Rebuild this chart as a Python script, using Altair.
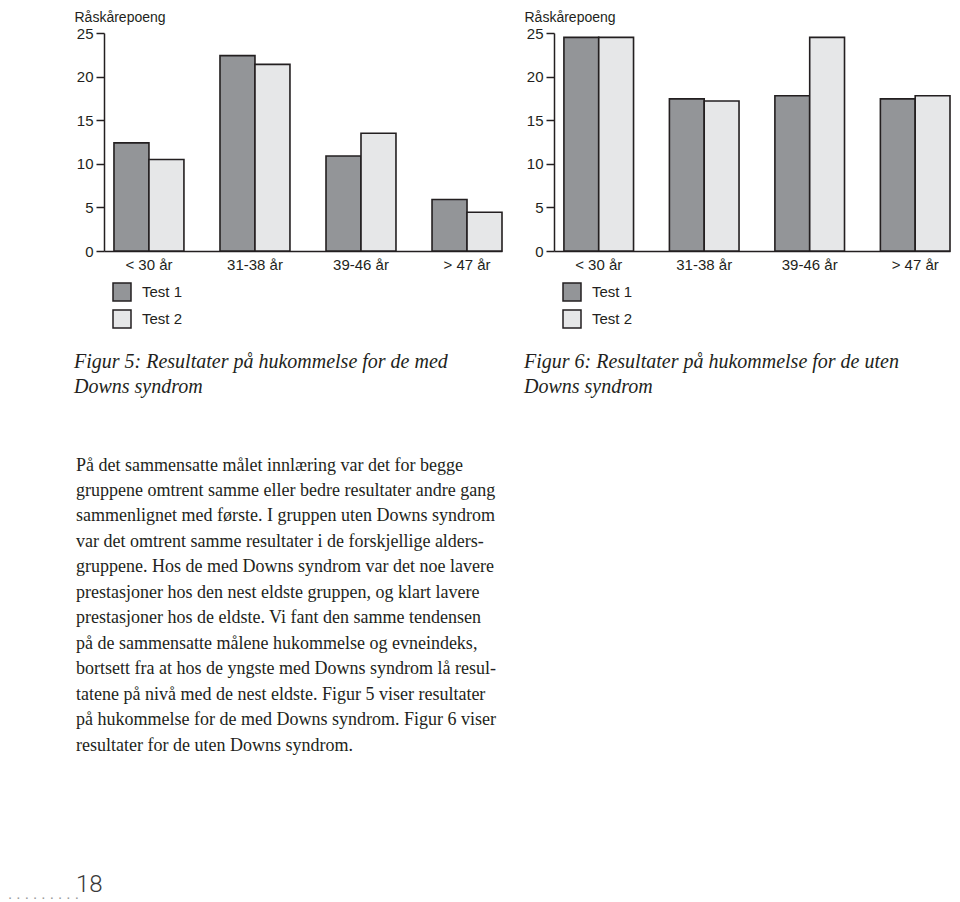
import altair as alt
import pandas as pd

# ---------------- data ----------------
groups = ["< 30 år", "31-38 år", "39-46 år", "> 47 år"]
tests = ["Test 1", "Test 2"]
fig5_test1 = [12.4, 22.4, 10.9, 5.9]
fig5_test2 = [10.5, 21.4, 13.5, 4.45]
fig6_test1 = [24.5, 17.45, 17.8, 17.45]
fig6_test2 = [24.5, 17.2, 24.5, 17.8]
y_ticks = [0, 5, 10, 15, 20, 25]
y_title = "Råskårepoeng"
caption5 = ["Figur 5: Resultater på hukommelse for de med", "Downs syndrom"]
caption6 = ["Figur 6: Resultater på hukommelse for de uten", "Downs syndrom"]
body_lines = [
    "På det sammensatte målet innlæring var det for begge",
    "gruppene omtrent samme eller bedre resultater andre gang",
    "sammenlignet med første. I gruppen uten Downs syndrom",
    "var det omtrent samme resultater i de forskjellige alders-",
    "gruppene. Hos de med Downs syndrom var det noe lavere",
    "prestasjoner hos den nest eldste gruppen, og klart lavere",
    "prestasjoner hos de eldste. Vi fant den samme tendensen",
    "på de sammensatte målene hukommelse og evneindeks,",
    "bortsett fra at hos de yngste med Downs syndrom lå resul-",
    "tatene på nivå med de nest eldste. Figur 5 viser resultater",
    "på hukommelse for de med Downs syndrom. Figur 6 viser",
    "resultater for de uten Downs syndrom.",
]
page_number = ["18"]
page_dots = [". . . . . . . . ."]

# ---------------- style ----------------
INK = "#231f20"
DARK = "#939598"
LIGHT = "#e6e7e8"
SANS = "Liberation Sans"
SERIF = "Liberation Serif"


def bar_chart(t1, t2, caption, width):
    df = pd.DataFrame({
        "group": groups * 2,
        "test": [tests[0]] * len(groups) + [tests[1]] * len(groups),
        "value": t1 + t2,
    })
    return alt.Chart(df).mark_bar(stroke=INK, strokeWidth=1.6).encode(
        x=alt.X(
            "group:N", sort=groups,
            scale=alt.Scale(paddingInner=0.34, paddingOuter=0.047, align=1),
            axis=alt.Axis(title=None, labelAngle=0, ticks=False, tickSize=0,
                          labelPadding=6, domainColor=INK, domainWidth=1.5,
                          labelFont=SANS, labelFontSize=15, labelColor=INK),
        ),
        xOffset=alt.XOffset("test:N", sort=tests,
                            scale=alt.Scale(paddingInner=0, paddingOuter=0)),
        y=alt.Y(
            "value:Q",
            scale=alt.Scale(domain=[0, 25], nice=False),
            axis=alt.Axis(values=y_ticks, title=y_title, titleAngle=0,
                          titleX=-30, titleY=-12, titleAlign="left",
                          titleBaseline="alphabetic", titleFont=SANS,
                          titleFontSize=14, titleFontWeight="normal",
                          titleColor=INK, grid=False, tickSize=8,
                          tickWidth=1.5, tickColor=INK, domainColor=INK,
                          domainWidth=1.5, labelPadding=3, labelFont=SANS,
                          labelFontSize=15, labelColor=INK),
        ),
        fill=alt.Fill(
            "test:N", sort=tests,
            scale=alt.Scale(domain=tests, range=[DARK, LIGHT]),
            legend=alt.Legend(orient="none", legendX=8, legendY=249,
                              direction="vertical", title=None,
                              symbolType="square", symbolSize=324,
                              symbolStrokeColor=INK, symbolStrokeWidth=1.5,
                              labelFont=SANS, labelFontSize=15,
                              labelColor=INK, labelOffset=10, rowPadding=3,
                              padding=0),
        ),
    ).properties(
        width=width, height=218,
        title=alt.TitleParams(text=caption, orient="bottom", anchor="start",
                              frame="group", dx=-30, offset=21,
                              baseline="top", font=SERIF, fontSize=20,
                              fontStyle="italic", fontWeight="normal",
                              lineHeight=25, color=INK),
    )


left = bar_chart(fig5_test1, fig5_test2, caption5, 398)
right = bar_chart(fig6_test1, fig6_test2, caption6, 396)

body_df = pd.DataFrame({"line": list(range(len(body_lines))), "text": body_lines})
body_text = alt.Chart(body_df).mark_text(
    align="left", baseline="alphabetic", font=SERIF, fontSize=18, color=INK
).encode(
    x=alt.value(-28),
    y=alt.Y("line:Q", scale=alt.Scale(domain=[0, len(body_lines) - 1],
                                      reverse=True, nice=False), axis=None),
    text="text:N",
)
page_num = alt.Chart(pd.DataFrame({"text": page_number})).mark_text(
    align="left", baseline="alphabetic", font="Roboto", fontWeight=300,
    fontSize=24, color="#3a3a3a"
).encode(x=alt.value(-28), y=alt.value(421), text="text:N")
dots = alt.Chart(pd.DataFrame({"text": page_dots})).mark_text(
    align="left", baseline="alphabetic", font="Liberation Sans",
    fontSize=15, color="#9a9a9a"
).encode(x=alt.value(-96), y=alt.value(428), text="text:N")

body = alt.layer(body_text, page_num, dots).properties(width=398, height=280)

chart = alt.concat(
    left, right, body, columns=2,
    spacing={"row": 219.5, "column": 52},
    bounds="flush", align="each",
).resolve_scale(
    fill="independent", xOffset="independent"
).resolve_legend(
    fill="independent"
).properties(
    padding={"top": 2, "left": 0, "right": 0, "bottom": 0}
).configure(
    background="white"
).configure_view(stroke="transparent", strokeWidth=0)

chart.save("out.html", embed_options={"renderer": "svg", "actions": False})
